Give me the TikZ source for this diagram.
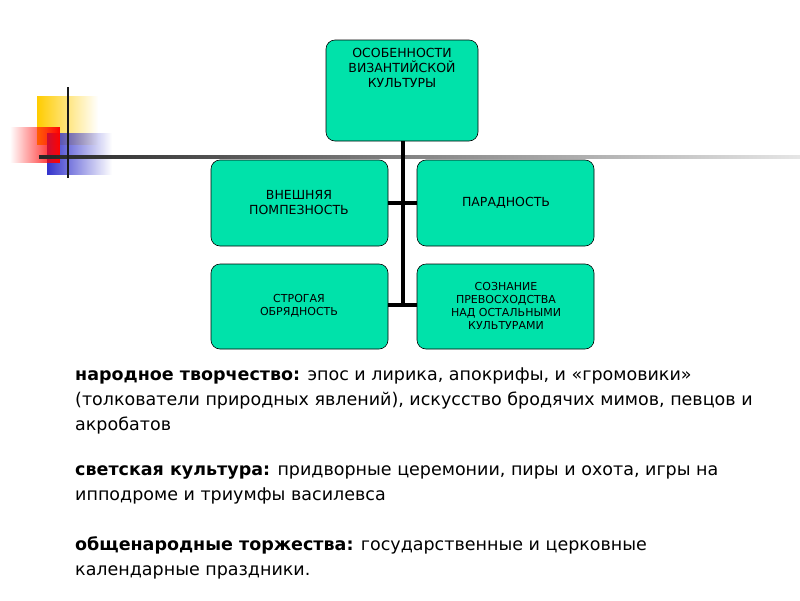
\documentclass[tikz,border=0pt]{standalone}
\usepackage{fontspec}
\setmainfont{DejaVu Sans}
\usetikzlibrary{fadings}
\definecolor{boxg}{RGB}{0,226,170}
\definecolor{yel}{RGB}{255,204,0}
\definecolor{blu}{RGB}{51,51,204}
\begin{document}
\begin{tikzpicture}[x=1pt,y=-1pt,
  bx/.style={draw=black,fill=boxg,rounded corners=9pt,line width=0.6pt},
  bt/.style={align=center,font=\fontsize{12.5}{15}\selectfont},
  bts/.style={align=center,font=\fontsize{11}{13}\selectfont},
  conn/.style={line width=3.5pt},
  ln/.style={anchor=base west,inner sep=0,font=\fontsize{17.5}{20}\selectfont}]
\useasboundingbox (0,0) rectangle (800,600);
% decoration
\fill[yel,path fading=east] (37,96) rectangle (98,145);
\fill[blu,path fading=east] (47,133) rectangle (112,175);
\fill[red,path fading=west] (10,127) rectangle (60,163);
\shade[left color=black!85,right color=black!10] (39,155.5) rectangle (800,158.5);
\draw[line width=2pt,black!90] (68,87) -- (68,178);
% boxes
\draw[bx] (326,40) rectangle (478,141); \node[bt,anchor=north] (top) at (402,45) {ОСОБЕННОСТИ\\ВИЗАНТИЙСКОЙ\\КУЛЬТУРЫ};
\coordinate (topb) at (403,141);
\draw[bx] (211,160) rectangle (388,246); \node[bt] (a) at (299,203) {ВНЕШНЯЯ\\ПОМПЕЗНОСТЬ};
\draw[bx] (417,160) rectangle (594,246); \node[bt] (b) at (506,203) {ПАРАДНОСТЬ};
\draw[bx] (211,264) rectangle (388,349); \node[bts] (c) at (299,306) {СТРОГАЯ\\ОБРЯДНОСТЬ};
\draw[bx] (417,264) rectangle (594,349); \node[bts] (d) at (506,306) {СОЗНАНИЕ\\ПРЕВОСХОДСТВА\\НАД ОСТАЛЬНЫМИ\\КУЛЬТУРАМИ};
\coordinate (j1) at (403,203); \coordinate (j2) at (403,305);
\coordinate (al) at (388,203); \coordinate (br) at (417,203);
\coordinate (cl) at (388,305); \coordinate (dr) at (417,305);
\draw[conn] (topb) -- (j2);
\draw[conn] (al) -- (br);
\draw[conn] (cl) -- (dr);
% text
\node[ln] (t1) at (75,380) {\textbf{народное творчество:} эпос и лирика, апокрифы, и «громовики»};
\node[ln] (t2) at (75,405) {(толкователи природных явлений), искусство бродячих мимов, певцов и};
\node[ln] (t3) at (75,430) {акробатов};
\node[ln] (t4) at (75,475) {\textbf{светская культура:} придворные церемонии, пиры и охота, игры на};
\node[ln] (t5) at (75,500) {ипподроме и триумфы василевса};
\node[ln] (t6) at (75,550) {\textbf{общенародные торжества:} государственные и церковные};
\node[ln] (t7) at (75,575) {календарные праздники.};
\end{tikzpicture}
\end{document}
